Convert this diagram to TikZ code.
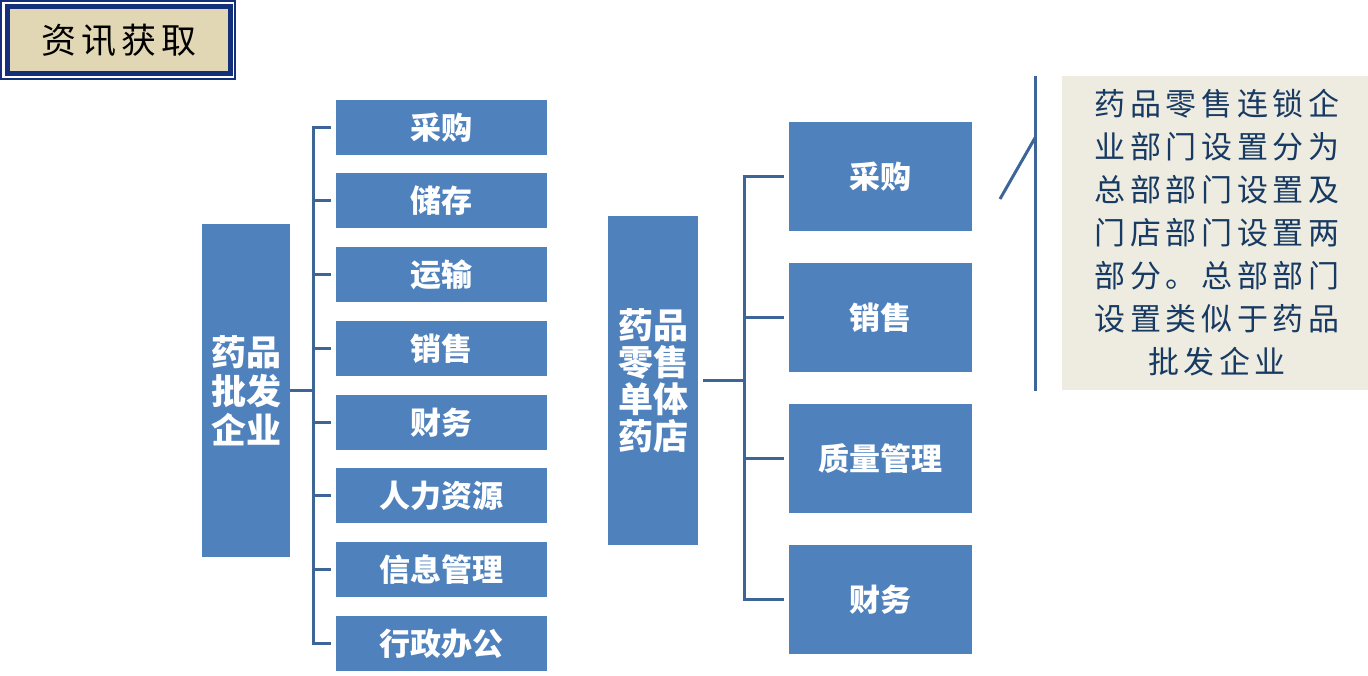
\documentclass[tikz,border=0pt]{standalone}
\usepackage{fontspec}
\setmainfont{Noto Sans CJK SC}
\definecolor{boxblue}{HTML}{4F81BD}
\definecolor{linkblue}{HTML}{3D6598}
\definecolor{navy}{HTML}{14307A}
\definecolor{titlebeige}{HTML}{E2D7B4}
\definecolor{notebg}{HTML}{EEEBE0}
\definecolor{notetext}{HTML}{173A63}
\tikzset{
  orgbox/.style={fill=boxblue, draw=none, text=white, font=\fontsize{31}{34}\selectfont\bfseries, inner sep=0pt},
  rootbox/.style={orgbox, font=\fontsize{35}{39}\selectfont\bfseries, align=center},
  link/.style={draw=linkblue, line width=3pt},
}
\begin{document}
\begin{tikzpicture}[x=1pt,y=-1pt]
\useasboundingbox (0,0) rectangle (1368,675);
% title
\node[draw=navy, line width=1.2pt, minimum width=234pt, minimum height=78pt, inner sep=0pt] (tframe) at (118,40) {};
\node[draw=navy, fill=titlebeige, line width=5pt, minimum width=223pt, minimum height=67pt, inner sep=0pt, font=\fontsize{35}{38}\selectfont] (title) at (119,40) {资\hspace{5pt}讯\hspace{5pt}获\hspace{5pt}取};
% left tree
\node[rootbox, minimum width=88pt, minimum height=333pt] (lroot) at (246,390.5) {药品\\批发\\企业};
\foreach \n/\y/\t in {l1/127.5/采购, l2/200.5/储存, l3/274.5/运输, l4/348.5/销售, l5/422.5/财务, l6/495.5/人力资源, l7/569.5/信息管理, l8/643.5/行政办公}{
  \node[orgbox, minimum width=211pt, minimum height=55pt] (\n) at (441.5,\y) {\t};
}
\coordinate (lbus) at (313,0);
\draw[link] ([xshift=-5pt]l1.west) -- (l1.west -| lbus) -- (l8.west -| lbus) -- ([xshift=-5pt]l8.west);
\foreach \n in {l2,l3,l4,l5,l6,l7}{
  \draw[link] ([xshift=-5pt]\n.west) -- (\n.west -| lbus);
}
\draw[link] (lroot.east) -- (lroot.east -| lbus);
% middle tree
\node[rootbox, minimum width=90pt, minimum height=329pt, font=\fontsize{35}{37}\selectfont\bfseries] (mroot) at (653,380.5) {药品\\零售\\单体\\药店};
\foreach \n/\y/\t in {m1/176.5/采购, m2/317.5/销售, m3/458.5/质量管理, m4/599.5/财务}{
  \node[orgbox, minimum width=183pt, minimum height=109pt] (\n) at (880.5,\y) {\t};
}
\coordinate (mbus) at (744,0);
\draw[link] ([xshift=-5pt]m1.west) -- (m1.west -| mbus) -- (m4.west -| mbus) -- ([xshift=-5pt]m4.west);
\foreach \n in {m2,m3}{
  \draw[link] ([xshift=-5pt]\n.west) -- (\n.west -| mbus);
}
\draw[link] ([xshift=5pt]mroot.east) -- (mroot.east -| mbus);
% callout
\node[fill=notebg, minimum width=306pt, minimum height=314pt, inner sep=0pt] (note) at (1215,233) {};
\node[text=notetext, align=center, font=\fontsize{31}{43}\selectfont\addfontfeatures{LetterSpace=15}] (notetxt) at (1217,233) {药品零售连锁企\\业部门设置分为\\总部部门设置及\\门店部门设置两\\部分。总部部门\\设置类似于药品\\批发企业};
\coordinate (ctop) at (1035.5,76);
\coordinate (cbot) at (1035.5,391);
\coordinate (cknee) at (1035.5,137);
\coordinate (ctip) at (1000,199);
\draw[link] (ctop) -- (cbot);
\draw[link] (ctip) -- (cknee);
\end{tikzpicture}
\end{document}
